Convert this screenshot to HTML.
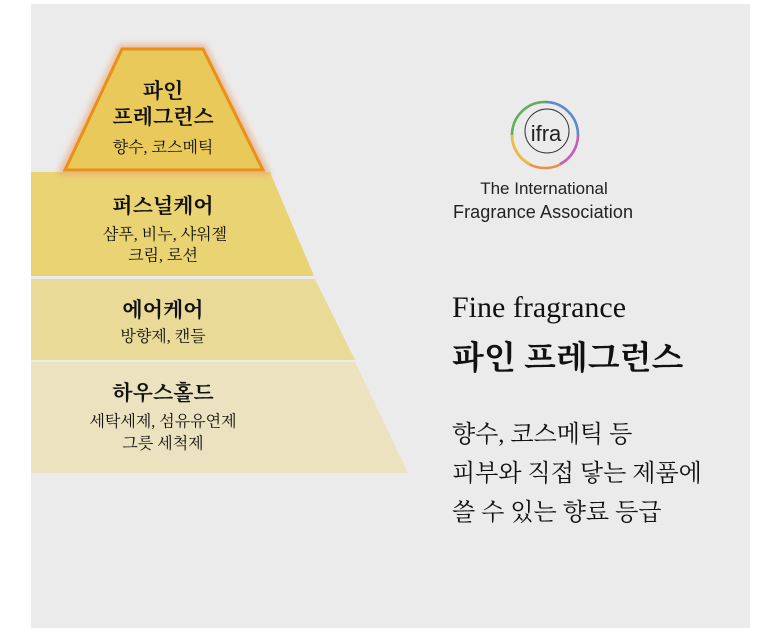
<!DOCTYPE html>
<html><head><meta charset="utf-8"><style>
body{margin:0;width:780px;height:633px;background:#fff;position:relative;overflow:hidden;font-family:"Liberation Serif","Noto Serif CJK SC",serif;color:#111}
.bg{position:absolute;left:31px;top:4px;width:719px;height:624px;background:#ebebeb}
.t{position:absolute;white-space:nowrap;transform:translate(-50%,-50%);font-weight:bold}
.s{font-size:16px;font-weight:normal}
.h{font-size:21px}
.r{position:absolute;left:452px;white-space:nowrap}
</style></head><body>
<div class="bg"></div>
<svg width="780" height="633" style="position:absolute;left:0;top:0">
<defs><filter id="g" x="-20%" y="-20%" width="140%" height="140%"><feGaussianBlur stdDeviation="3"/></filter></defs>
<polygon points="31,172 270,172 314,276 31,276" fill="#e9d373"/>
<polygon points="31,279 315,279 355,360 31,360" fill="#e9da98"/>
<polygon points="31,362 355,362 408,473 31,473" fill="#ebe2bf"/>
<polygon points="122,48 203,48 265,171 63,171" fill="none" stroke="#e8a070" stroke-width="8" opacity=".6" filter="url(#g)"/>
<polygon points="122,49 203,49 263,170 65,170" fill="#e8c95a" stroke="#e8901a" stroke-width="3"/>
<circle cx="545" cy="135" r="33" fill="none" stroke="#e8904a" stroke-width="2.5"/>
<path d="M545 102 A33 33 0 0 1 578 135" fill="none" stroke="#5a8ad8" stroke-width="2.5"/>
<path d="M578 135 A33 33 0 0 1 560 164" fill="none" stroke="#c060c0" stroke-width="2.5"/>
<path d="M512 135 A33 33 0 0 1 545 102" fill="none" stroke="#60b060" stroke-width="2.5"/>
<path d="M530 164 A33 33 0 0 1 512 135" fill="none" stroke="#e8c040" stroke-width="2.5"/>
<circle cx="547" cy="131" r="22" fill="none" stroke="#333" stroke-width="1"/>
<text x="546" y="141" font-family="Liberation Sans" font-size="22" text-anchor="middle" fill="#222">ifra</text>
<text x="544" y="194" font-family="Liberation Sans" font-size="17" text-anchor="middle" fill="#222">The International</text>
<text x="543" y="218" font-family="Liberation Sans" font-size="18" text-anchor="middle" fill="#222" textLength="180">Fragrance Association</text>
</svg>
<div class="t h" style="left:163px;top:90px">파인</div>
<div class="t h" style="left:163px;top:116px">프레그런스</div>
<div class="t s" style="left:163px;top:146px">향수, 코스메틱</div>
<div class="t h" style="left:163px;top:205px">퍼스널케어</div>
<div class="t s" style="left:165px;top:233px">샴푸, 비누, 샤워젤</div>
<div class="t s" style="left:163px;top:254px">크림, 로션</div>
<div class="t h" style="left:163px;top:309px">에어케어</div>
<div class="t s" style="left:163px;top:335px">방향제, 캔들</div>
<div class="t h" style="left:163px;top:392px">하우스홀드</div>
<div class="t s" style="left:163px;top:420px">세탁세제, 섬유유연제</div>
<div class="t s" style="left:163px;top:442px">그릇 세척제</div>
<div class="r" style="top:291px;font-size:30px">Fine fragrance</div>
<div class="r" style="top:332px;font-size:33px;font-weight:bold">파인 프레그런스</div>
<div class="r" style="top:416px;font-size:24px;line-height:39px">향수, 코스메틱 등<br>피부와 직접 닿는 제품에<br>쓸 수 있는 향료 등급</div>
</body></html>
